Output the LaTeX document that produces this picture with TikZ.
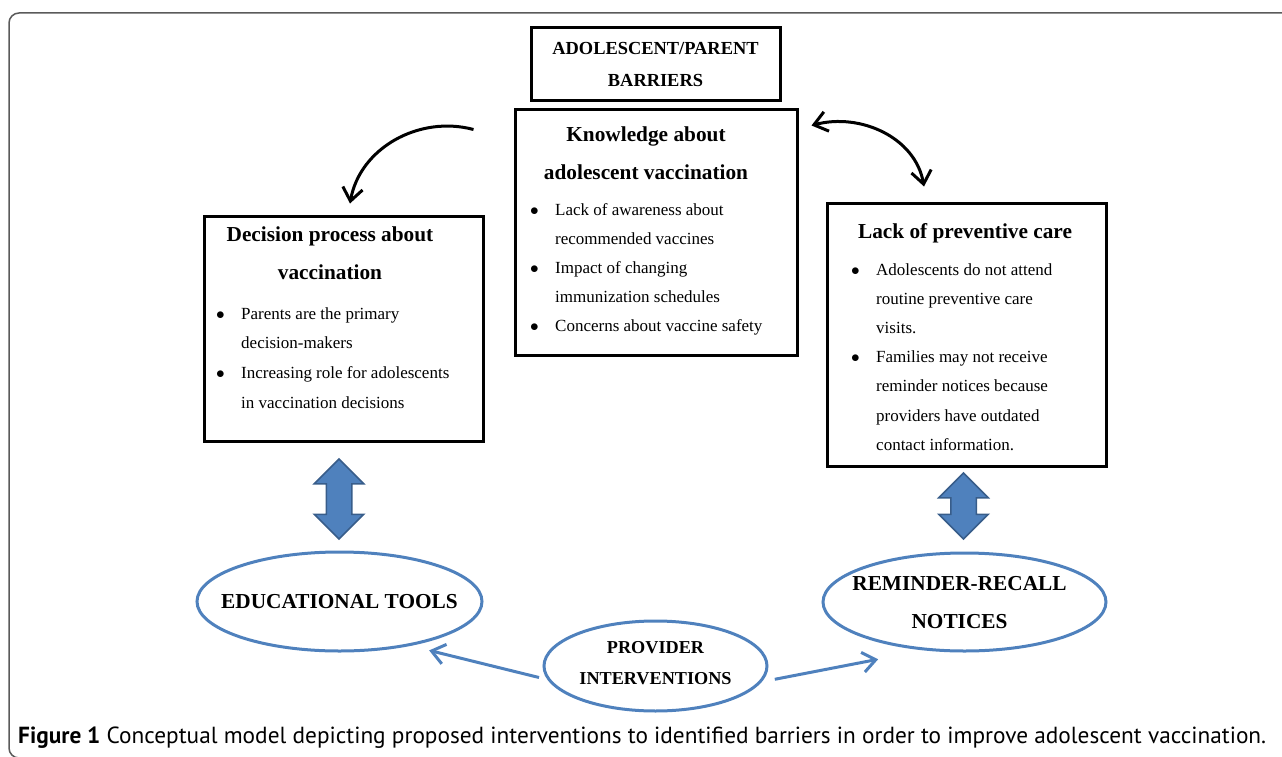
\documentclass[tikz,border=0pt]{standalone}
\usepackage{fontspec}
\setmainfont{Liberation Serif}
\newfontfamily\capfont{PT Sans}
\usetikzlibrary{arrows.meta,shapes.geometric,shapes.arrows,positioning}

\definecolor{ovalblue}{RGB}{79,129,189}
\definecolor{ovaledge}{RGB}{56,93,138}
\definecolor{framegray}{RGB}{90,90,90}

\newcommand{\headfont}{\fontsize{21.3}{38}\selectfont\bfseries}
\newcommand{\listfont}{\fontsize{17}{29.2}\selectfont}
\newcommand{\lines}[1]{\begin{tabular}[t]{@{}c@{}}#1\end{tabular}}
\newcommand{\blist}[1]{\begin{tabular}[t]{@{}p{25pt}@{}l@{}}#1\end{tabular}}
\newcommand{\bul}{$\bullet$}

\begin{document}
\begin{tikzpicture}[x=1pt,y=-1pt,>={Straight Barb[length=13pt,width=20pt]}]
  \tikzstyle{barrier}=[rectangle,draw=black,line width=3pt,inner sep=0]
  \tikzstyle{heading}=[inner sep=0,anchor=base,font=\headfont]
  \tikzstyle{bullets}=[inner sep=0,anchor=base west,font=\listfont]
  \tikzstyle{intervention}=[ellipse,draw=ovalblue,line width=3pt,inner sep=0]
  \tikzstyle{ovaltext}=[inner sep=0,font=\headfont]
  \tikzstyle{twoway}=[double arrow,rotate=90,fill=ovalblue,draw=ovaledge,line width=1.5pt,
    inner xsep=0,inner ysep=12pt,double arrow head extend=12pt]
  \tikzstyle{link}=[line width=3pt]
  \tikzstyle{bluelink}=[draw=ovalblue,line width=3pt,->]

  \useasboundingbox (0,0) rectangle (1282,757);
  \draw[framegray,line width=1.5pt,rounded corners=10pt] (1300,13) -- (9,13) -- (9,758) -- (40,758);

  % barriers
  \node [barrier,minimum width=249pt,minimum height=73pt,font=\fontsize{18.4}{32}\selectfont\bfseries]
    (barriers) at (655.5,64.5) {\lines{ADOLESCENT/PARENT\\BARRIERS}};
  \node [barrier,minimum width=282pt,minimum height=245pt] (knowledge) at (656,232.5) {};
  \node [barrier,minimum width=279pt,minimum height=225pt] (decision) at (343.5,328.5) {};
  \node [barrier,minimum width=279pt,minimum height=263pt] (lack) at (966.5,334.5) {};

  \node [heading] at (646,142) {\lines{Knowledge about\\adolescent vaccination}};
  \node [bullets] at (530,215) {\blist{%
    \bul & Lack of awareness about\\
         & recommended vaccines\\
    \bul & Impact of changing\\
         & immunization schedules\\
    \bul & Concerns about vaccine safety}};

  \node [heading] at (330,241) {\lines{Decision process about\\vaccination}};
  \node [bullets,font=\fontsize{17}{29.7}\selectfont] at (216,319) {\blist{%
    \bul & Parents are the primary\\
         & decision-makers\\
    \bul & Increasing role for adolescents\\
         & in vaccination decisions}};

  \node [heading] at (965,238) {Lack of preventive care};
  \node [bullets] at (851,275) {\blist{%
    \bul & Adolescents do not attend\\
         & routine preventive care\\
         & visits.\\
    \bul & Families may not receive\\
         & reminder notices because\\
         & providers have outdated\\
         & contact information.}};

  % interventions
  \node [intervention,minimum width=285pt,minimum height=99pt] (edu) at (339.5,601.5) {};
  \node [intervention,minimum width=283pt,minimum height=98pt] (remind) at (964.5,602) {};
  \node [intervention,minimum width=223pt,minimum height=90pt] (provider) at (655.5,666) {};
  \node [ovaltext] at (edu.center) {EDUCATIONAL TOOLS};
  \node [ovaltext] at ([xshift=-5pt]remind.center) {\lines{REMINDER-RECALL\\NOTICES}};
  \node [ovaltext,font=\fontsize{18.2}{31}\selectfont\bfseries] at ([yshift=3pt]provider.center)
    {\lines{PROVIDER\\INTERVENTIONS}};

  \node [twoway,minimum height=80pt] (eduarrow) at (339,499) {};
  \node [twoway,minimum height=66pt] (remindarrow) at (963.5,506) {};

  \draw [link,->] ([xshift=-40pt,yshift=-21pt]knowledge.north west) to[out=165,in=80]
    ([xshift=6.5pt,yshift=11pt]decision.north);
  \draw [link,<->] ([xshift=13pt,yshift=-17pt]knowledge.north east) to[out=15,in=100]
    ([xshift=-42.5pt,yshift=15pt]lack.north);

  \draw [bluelink] ([xshift=-7pt]provider.186) -- ([yshift=-9pt]edu.-24);
  \draw [bluelink] ([xshift=11pt]provider.-7) -- ([yshift=-17pt]remind.205);

  \node [anchor=base west,inner sep=0,font=\capfont\fontsize{23.3}{28}\selectfont] (caption) at (18,743)
    {\textbf{Figure 1} Conceptual model depicting proposed interventions to identified barriers in order to improve adolescent vaccination.};
\end{tikzpicture}
\end{document}
